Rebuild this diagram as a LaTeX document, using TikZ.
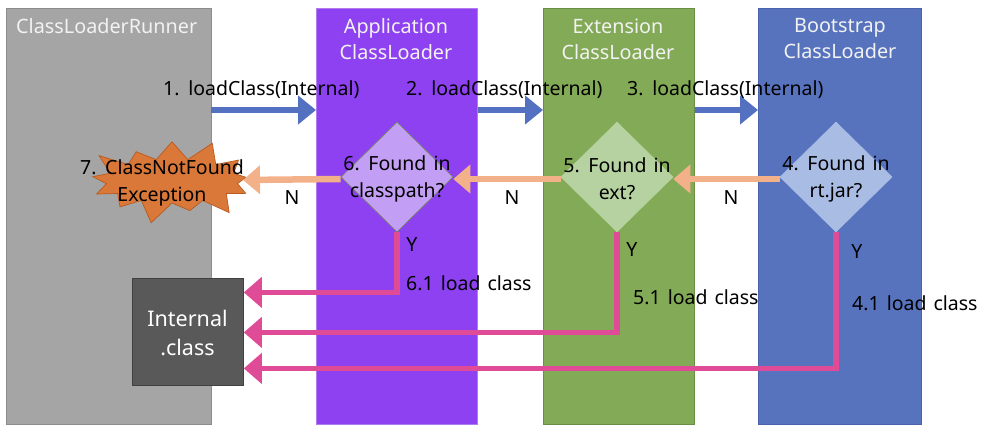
\documentclass[tikz,border=0pt]{standalone}
\usepackage{fontspec}
\setmainfont{Noto Sans}
\usetikzlibrary{shapes.geometric,shapes.symbols,arrows.meta,calc}
\definecolor{cgray}{HTML}{A5A5A5}
\definecolor{cgrayb}{HTML}{8C8C8C}
\definecolor{cpurp}{HTML}{8E41F1}
\definecolor{cpurpb}{HTML}{B07CF0}
\definecolor{cgreen}{HTML}{83AA56}
\definecolor{cgreenb}{HTML}{6B8E45}
\definecolor{cblue}{HTML}{5873BE}
\definecolor{cblueb}{HTML}{4A63AA}
\definecolor{dpurp}{HTML}{C29EF4}
\definecolor{dgreen}{HTML}{B5D2A0}
\definecolor{dblue}{HTML}{A9BCE4}
\definecolor{arrblue}{HTML}{5470C0}
\definecolor{arrorange}{HTML}{F2B189}
\definecolor{arrpink}{HTML}{E04B98}
\definecolor{boom}{HTML}{DA783A}
\definecolor{boomb}{HTML}{B85A1E}
\definecolor{ttl}{HTML}{F2F2F2}
\newcommand{\widesp}{\spaceskip=0.36em\relax}
\begin{document}
\begin{tikzpicture}[x=1pt,y=-1pt,
  col/.style={draw=#1, line width=0.8pt, anchor=north west, inner sep=0pt},
  ttext/.style={text=ttl, font=\fontsize{19.8}{26}\selectfont, align=center, inner sep=0pt},
  btext/.style={text=black, font=\fontsize{19.5}{27}\selectfont\widesp, align=center, inner sep=0pt},
  dmd/.style={diamond, draw=#1, line width=0.6pt, minimum width=112pt, minimum height=110pt, inner sep=0pt, aspect=1},
  blarrow/.style={draw=arrblue, line width=6.5pt, -{Triangle[length=18pt 0 0, width=28pt 0 0]}},
  orarrow/.style={draw=arrorange, line width=6.5pt, -{Triangle[length=17pt 0 0, width=28pt 0 0]}},
  pkarrow/.style={draw=arrpink, line width=5.5pt, -{Triangle[length=18pt 0 0, width=30pt 0 0]}}
]
\useasboundingbox (0,0) rectangle (999,432);
% columns
\node[col=cgrayb, fill=cgray, minimum width=205pt, minimum height=416pt] (runner) at (6,8) {};
\node[col=cpurpb, fill=cpurp, minimum width=161pt, minimum height=416pt] (app) at (316,8) {};
\node[col=cgreenb, fill=cgreen, minimum width=151pt, minimum height=416pt] (ext) at (543,8) {};
\node[col=cblueb, fill=cblue, minimum width=163pt, minimum height=416pt] (boot) at (758,8) {};
% titles
\node[ttext, anchor=west] (trunner) at (16,26) {ClassLoaderRunner};
\node[ttext] (tapp) at (396,39) {Application\\ClassLoader};
\node[ttext] (text) at (618,39) {Extension\\ClassLoader};
\node[ttext] (tboot) at (840,39) {Bootstrap\\ClassLoader};
% diamonds
\node[dmd=cgreenb!70!gray, fill=dpurp] (d6) at (397,177) {};
\node[dmd=dgreen, fill=dgreen] (d5) at (617,177) {};
\node[dmd=dblue, fill=dblue] (d4) at (836,177) {};
\node[btext] (t6) at (397,179) {6. Found in\\classpath?};
\node[btext] (t5) at (617,179) {5. Found in\\ext?};
\node[btext] (t4) at (836,179) {4. Found in\\rt.jar?};
% internal box
\node[draw=black!75, fill=black!65, line width=0.8pt, minimum width=111pt, minimum height=107pt, inner sep=0pt, anchor=north west] (intl) at (132,278) {};
\node[text=white, font=\fontsize{21.5}{29}\selectfont, align=center, inner sep=0pt] (tintl) at (187.5,333) {Internal\\.class};
% explosion
\node[starburst, starburst points=13, starburst point height=24pt, draw=boomb, fill=boom, line width=0.7pt, minimum width=180pt, minimum height=92pt, inner sep=0pt] (boom) at (172,181) {};
\node[btext] (tboom) at (162,183) {7. ClassNotFound\\Exception};
% blue arrows
\coordinate (b1) at (211,110);
\draw[blarrow] (b1) -- (app.west |- b1);
\draw[blarrow] (app.east |- b1) -- (ext.west |- b1);
\draw[blarrow] (ext.east |- b1) -- (boot.west |- b1);
\node[btext, anchor=west] (l1) at (163,90) {1. loadClass(Internal)};
\node[btext, anchor=west] (l2) at (406,90) {2. loadClass(Internal)};
\node[btext, anchor=west] (l3) at (627,90) {3. loadClass(Internal)};
% orange arrows
\coordinate (bt) at (243,180);
\draw[orarrow] ([yshift=-2pt]d4.west) -- ([yshift=-2pt]d5.east);
\draw[orarrow] ([yshift=-2pt]d5.west) -- ([yshift=-2pt]d6.east);
\draw[orarrow] ([yshift=-2pt]d6.west) -- (bt);
\node[btext] (n1) at (292,198) {N};
\node[btext] (n2) at (512,198) {N};
\node[btext] (n3) at (731,198) {N};
% pink arrows
\draw[pkarrow] (d6.south) |- ([yshift=39.5pt]intl.east);
\draw[pkarrow] (d5.south) |- ([yshift=-0.5pt]intl.east);
\draw[pkarrow] (d4.south) |- ([yshift=-36.5pt]intl.east);
\node[btext] (y6) at (412,245) {Y};
\node[btext] (y5) at (632,250) {Y};
\node[btext] (y4) at (857,252) {Y};
\node[btext, anchor=west] (p6) at (406,283) {6.1 load class};
\node[btext, anchor=west] (p5) at (633,297) {5.1 load class};
\node[btext, anchor=west] (p4) at (852,303) {4.1 load class};
\end{tikzpicture}
\end{document}
